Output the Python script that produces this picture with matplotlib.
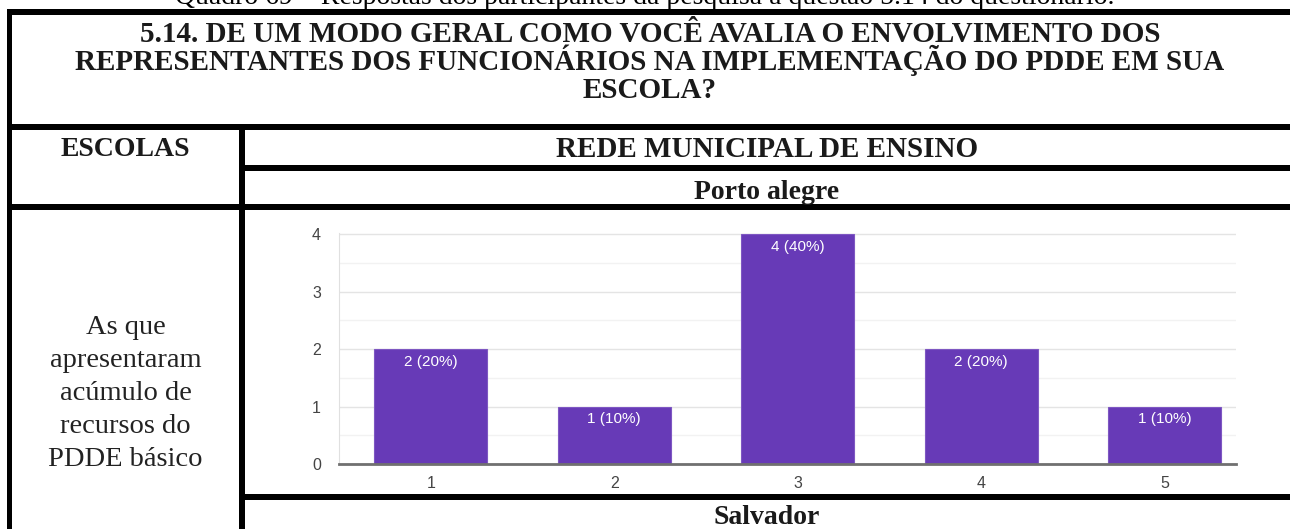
import numpy as np
import matplotlib
matplotlib.use('Agg')
import matplotlib.pyplot as plt

# dados do gráfico (questão 5.14 - Porto alegre)
categorias = ['1', '2', '3', '4', '5']
respostas = [2, 1, 4, 2, 1]
ticks_y = [0, 1, 2, 3, 4]

legenda = 'Quadro 69 – Respostas dos participantes da pesquisa à questão 5.14 do questionário.'
titulo = ['5.14. DE UM MODO GERAL COMO VOCÊ AVALIA O ENVOLVIMENTO DOS',
          'REPRESENTANTES DOS FUNCIONÁRIOS NA IMPLEMENTAÇÃO DO PDDE EM SUA',
          'ESCOLA?']
linhas_esquerda = ['As que', 'apresentaram', 'acúmulo de', 'recursos do', 'PDDE básico']

W, H = 1290, 529
fig = plt.figure(figsize=(W / 100, H / 100), dpi=100)

# fundo em coordenadas de pixel (tabela)
bg = fig.add_axes([0, 0, 1, 1])
bg.set_xlim(0, W)
bg.set_ylim(H, 0)
bg.axis('off')

def barra(x0, x1, y0, y1):
    bg.fill_between([x0, x1], y0, y1, color='black', lw=0)

barra(7, W, 9, 15)        # topo
barra(7, 12, 9, H)        # esquerda
barra(7, W, 124, 130)     # abaixo do título
barra(239, 245, 124, H)   # divisória vertical
barra(245, W, 165, 171)   # abaixo de REDE MUNICIPAL
barra(7, W, 204, 210)     # abaixo de Porto alegre
barra(245, W, 494, 500)   # abaixo do gráfico

serif = 'Liberation Serif'
bg.text(645, 4, legenda, ha='center', va='baseline', fontsize=20, family=serif)

for i, linha in enumerate(titulo):
    bg.text(650, 42 + 28 * i, linha, ha='center', va='baseline', fontsize=21,
            family=serif, fontweight='bold', color='#1a1a1a')

bg.text(125.5, 156, 'ESCOLAS', ha='center', va='baseline', fontsize=20,
        family=serif, fontweight='bold', color='#1a1a1a')
bg.text(767, 157, 'REDE MUNICIPAL DE ENSINO', ha='center', va='baseline', fontsize=21,
        family=serif, fontweight='bold', color='#1a1a1a')
bg.text(767, 199, 'Porto alegre', ha='center', va='baseline', fontsize=20,
        family=serif, fontweight='bold', color='#1a1a1a')
bg.text(767, 524, 'Salvador', ha='center', va='baseline', fontsize=20,
        family=serif, fontweight='bold', color='#1a1a1a')

for i, linha in enumerate(linhas_esquerda):
    bg.text(125.5, 327 + 33.2 * i, linha, ha='center', va='center', fontsize=20.5,
            family=serif, color='#222222')

# gráfico de barras
ax = fig.add_axes([339 / W, (H - 464) / H, (1236 - 339) / W, (464 - 233) / H])
x = np.arange(len(categorias))
barras = ax.bar(x, respostas, width=0.616, color='#673ab7', edgecolor='#7e57c2',
                linewidth=0.8, zorder=3)
total = sum(respostas)
for xi, v in zip(x, respostas):
    ax.annotate(f'{v} ({v / total * 100:.0f}%)', (xi, v), xytext=(0, -4),
                textcoords='offset points', ha='center', va='top',
                fontsize=11, color='white', family='Liberation Sans', zorder=4)

ax.set_xlim(-0.5, 4.39)
ax.set_ylim(0, 4.02)
ax.set_xticks(x)
ax.set_xticklabels(categorias)
ax.set_yticks(ticks_y)
ax.set_yticks(np.arange(0.5, 4, 1), minor=True)
ax.grid(axis='y', which='major', color='#e4e4e4', lw=1, zorder=0)
ax.grid(axis='y', which='minor', color='#f2f2f2', lw=1, zorder=0)
ax.tick_params(which='both', length=0)
ax.tick_params(axis='y', pad=13, labelsize=11.5, labelcolor='#444444')
ax.tick_params(axis='x', pad=8.5, labelsize=11.5, labelcolor='#444444')
for lab in ax.get_xticklabels() + ax.get_yticklabels():
    lab.set_family('Liberation Sans')
ax.spines['top'].set_visible(False)
ax.spines['right'].set_visible(False)
ax.spines['left'].set_color('#e0e0e0')
ax.spines['bottom'].set_color('#707070')
ax.spines['bottom'].set_linewidth(2)
ax.spines['bottom'].set_zorder(5)

fig.savefig('out.png', dpi=100)
